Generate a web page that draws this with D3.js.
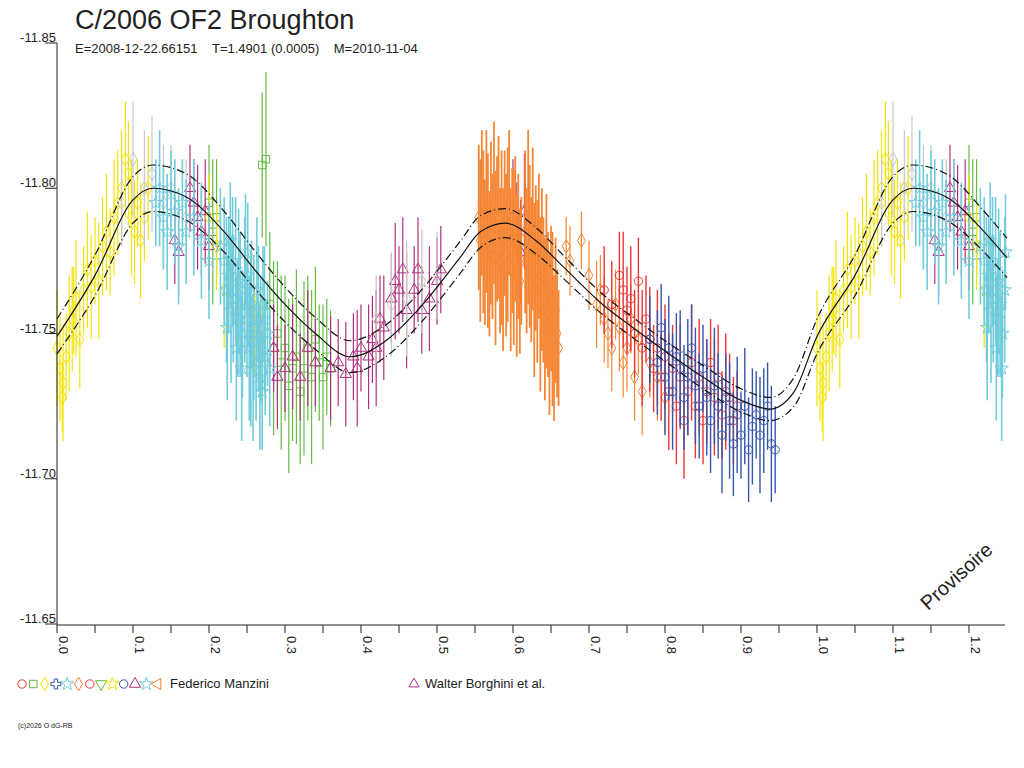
<!DOCTYPE html>
<html>
<head>
<meta charset="utf-8">
<script src="https://cdn.jsdelivr.net/npm/d3@7.9.0/dist/d3.min.js"></script>
<style>
  body { margin: 0; background: #fff; }
  text { font-family: "Liberation Sans", Arial, sans-serif; fill: #222; }
</style>
</head>
<body>
<svg id="chart" width="1024" height="768"></svg>
<script>
// fitted light curve (phase, magnitude) and its uncertainty band
const curvePhase = [0, 0.05, 0.1, 0.126, 0.17, 0.22, 0.26, 0.3, 0.34, 0.386, 0.43, 0.478, 0.53, 0.557, 0.59, 0.63, 0.666, 0.718, 0.758, 0.8, 0.85, 0.9, 0.938, 0.97, 1.0, 1.05, 1.1, 1.126, 1.17, 1.22, 1.25];
const curveMag = [-11.749, -11.770, -11.796, -11.800, -11.797, -11.785, -11.772, -11.760, -11.750, -11.742, -11.747, -11.759, -11.776, -11.785, -11.788, -11.782, -11.773, -11.760, -11.752, -11.744, -11.735, -11.727, -11.724, -11.730, -11.749, -11.770, -11.796, -11.800, -11.797, -11.785, -11.776];
const curveSigma = [0.006, 0.007, 0.008, 0.008, 0.008, 0.007, 0.0065, 0.006, 0.0055, 0.0055, 0.0055, 0.0055, 0.0055, 0.0055, 0.005, 0.0045, 0.004, 0.0035, 0.0035, 0.0035, 0.004, 0.004, 0.004, 0.005, 0.006, 0.007, 0.008, 0.008, 0.008, 0.007, 0.0068];

const xTicks = [0.0, 0.1, 0.2, 0.3, 0.4, 0.5, 0.6, 0.7, 0.8, 0.9, 1.0, 1.1, 1.2];
const yTicks = [-11.85, -11.80, -11.75, -11.70, -11.65];

// observations [phase, mag, halfError]
const yellowObs = [[0.0,-11.745,0.02],[0.004,-11.738,0.018],[0.008,-11.733,0.02],[0.012,-11.742,0.015],[0.016,-11.75,0.02],[0.02,-11.755,0.018],[0.025,-11.762,0.02],[0.03,-11.748,0.017],[0.035,-11.765,0.015],[0.04,-11.772,0.02],[0.045,-11.766,0.018],[0.05,-11.775,0.015],[0.055,-11.768,0.02],[0.06,-11.78,0.017],[0.065,-11.785,0.02],[0.07,-11.778,0.015],[0.075,-11.79,0.02],[0.08,-11.795,0.018],[0.085,-11.8,0.02],[0.09,-11.81,0.02],[0.094,-11.805,0.018],[0.098,-11.79,0.02],[0.102,-11.785,0.018],[0.106,-11.795,0.015],[0.11,-11.782,0.02],[0.115,-11.79,0.015],[0.12,-11.8,0.018],[0.007,-11.728,0.012],[0.022,-11.758,0.015],[0.2,-11.79,0.015],[0.21,-11.78,0.015],[0.22,-11.765,0.02],[0.255,-11.758,0.02],[0.26,-11.75,0.015],[0.265,-11.762,0.018],[0.27,-11.745,0.015]];
const grayObs = [[0.085,-11.795,0.015],[0.1,-11.81,0.02],[0.115,-11.8,0.02],[0.125,-11.805,0.02],[0.14,-11.795,0.02],[0.15,-11.8,0.015],[0.17,-11.79,0.02],[0.42,-11.755,0.015],[0.44,-11.76,0.018],[0.46,-11.762,0.02],[0.48,-11.768,0.018],[0.5,-11.77,0.015]];
const cyanObs = [[0.13,-11.795,0.015],[0.135,-11.8,0.02],[0.14,-11.79,0.018],[0.145,-11.785,0.02],[0.15,-11.798,0.015],[0.155,-11.792,0.018],[0.16,-11.78,0.02],[0.165,-11.795,0.015],[0.17,-11.785,0.018],[0.18,-11.79,0.02],[0.19,-11.782,0.02],[0.2,-11.775,0.02],[0.215,-11.78,0.02],[0.22,-11.775,0.022],[0.223,-11.765,0.025],[0.226,-11.77,0.02],[0.229,-11.758,0.025],[0.232,-11.762,0.022],[0.235,-11.772,0.025],[0.238,-11.755,0.02],[0.241,-11.76,0.025],[0.244,-11.75,0.022],[0.247,-11.765,0.025],[0.25,-11.755,0.02],[0.253,-11.745,0.025],[0.256,-11.76,0.022],[0.259,-11.752,0.025],[0.262,-11.74,0.02],[0.265,-11.755,0.025],[0.268,-11.748,0.022],[0.271,-11.76,0.02],[0.274,-11.742,0.02],[0.277,-11.75,0.018],[0.28,-11.738,0.02],[0.228,-11.782,0.02],[0.236,-11.745,0.025],[0.248,-11.778,0.02],[0.258,-11.738,0.025],[0.27,-11.73,0.02],[0.224,-11.752,0.025],[0.231,-11.775,0.022],[0.239,-11.768,0.025],[0.243,-11.738,0.025],[0.251,-11.77,0.025],[0.255,-11.748,0.03],[0.263,-11.765,0.025],[0.267,-11.735,0.025],[0.273,-11.755,0.025]];
const magentaObs = [[0.155,-11.782,0.015],[0.16,-11.778,0.015],[0.175,-11.8,0.015],[0.18,-11.795,0.015],[0.185,-11.79,0.018],[0.19,-11.785,0.015],[0.195,-11.792,0.018],[0.2,-11.78,0.015],[0.285,-11.745,0.015],[0.29,-11.735,0.018],[0.3,-11.738,0.015],[0.31,-11.742,0.018],[0.32,-11.735,0.015],[0.33,-11.745,0.02],[0.34,-11.74,0.015],[0.36,-11.738,0.018],[0.37,-11.74,0.015],[0.38,-11.736,0.018],[0.39,-11.742,0.015],[0.395,-11.738,0.02],[0.4,-11.745,0.015],[0.41,-11.742,0.018],[0.415,-11.748,0.015],[0.42,-11.745,0.02],[0.425,-11.755,0.015],[0.43,-11.752,0.018],[0.44,-11.762,0.015],[0.445,-11.768,0.02],[0.45,-11.765,0.015],[0.455,-11.772,0.018],[0.46,-11.758,0.02],[0.47,-11.765,0.015],[0.475,-11.772,0.018],[0.48,-11.758,0.015],[0.49,-11.762,0.018],[0.5,-11.768,0.015],[0.505,-11.772,0.015],[0.6,-11.79,0.02],[0.605,-11.782,0.02],[0.61,-11.778,0.018],[0.615,-11.792,0.02]];
const greenObs = [[0.2,-11.795,0.02],[0.205,-11.785,0.025],[0.21,-11.79,0.02],[0.27,-11.808,0.025],[0.275,-11.81,0.03],[0.28,-11.76,0.025],[0.285,-11.745,0.03],[0.29,-11.75,0.025],[0.295,-11.74,0.03],[0.3,-11.745,0.025],[0.305,-11.732,0.03],[0.31,-11.738,0.025],[0.315,-11.742,0.03],[0.32,-11.73,0.025],[0.325,-11.738,0.03],[0.33,-11.745,0.025],[0.335,-11.735,0.03],[0.34,-11.748,0.025],[0.345,-11.74,0.02],[0.35,-11.735,0.025],[0.355,-11.742,0.02],[0.36,-11.738,0.02]];
const orangeObs = [[0.555,-11.79,0.025],[0.557,-11.782,0.028],[0.559,-11.795,0.025],[0.561,-11.785,0.028],[0.563,-11.778,0.025],[0.565,-11.792,0.028],[0.567,-11.782,0.03],[0.569,-11.774,0.025],[0.571,-11.788,0.028],[0.573,-11.78,0.025],[0.575,-11.795,0.028],[0.577,-11.776,0.03],[0.579,-11.786,0.025],[0.581,-11.79,0.028],[0.583,-11.775,0.025],[0.585,-11.783,0.03],[0.587,-11.772,0.028],[0.589,-11.788,0.025],[0.591,-11.777,0.028],[0.593,-11.784,0.03],[0.595,-11.795,0.025],[0.597,-11.772,0.028],[0.599,-11.782,0.025],[0.601,-11.776,0.03],[0.603,-11.786,0.025],[0.605,-11.77,0.028],[0.607,-11.78,0.025],[0.609,-11.768,0.025],[0.611,-11.775,0.022],[0.616,-11.785,0.028],[0.618,-11.775,0.025],[0.62,-11.79,0.03],[0.622,-11.78,0.028],[0.624,-11.772,0.025],[0.626,-11.786,0.028],[0.628,-11.765,0.03],[0.63,-11.776,0.025],[0.632,-11.768,0.028],[0.634,-11.78,0.025],[0.636,-11.76,0.03],[0.638,-11.772,0.028],[0.64,-11.765,0.025],[0.642,-11.755,0.028],[0.644,-11.768,0.03],[0.646,-11.76,0.025],[0.648,-11.75,0.028],[0.65,-11.762,0.025],[0.652,-11.755,0.03],[0.654,-11.745,0.025],[0.656,-11.758,0.025],[0.658,-11.75,0.022],[0.66,-11.745,0.02]];
const orangeDiamondObs = [[0.67,-11.78,0.01],[0.675,-11.775,0.012],[0.69,-11.782,0.01],[0.7,-11.77,0.012],[0.71,-11.76,0.015],[0.715,-11.765,0.012],[0.72,-11.755,0.015],[0.725,-11.75,0.012],[0.73,-11.745,0.015],[0.735,-11.76,0.012],[0.74,-11.752,0.015],[0.745,-11.74,0.012],[0.75,-11.745,0.015],[0.755,-11.755,0.012],[0.76,-11.735,0.015],[0.765,-11.748,0.012],[0.77,-11.73,0.015],[0.78,-11.74,0.012],[0.79,-11.735,0.015],[0.8,-11.728,0.012]];
const redObs = [[0.72,-11.765,0.015],[0.73,-11.76,0.015],[0.74,-11.77,0.015],[0.745,-11.765,0.02],[0.75,-11.758,0.015],[0.755,-11.762,0.018],[0.76,-11.75,0.015],[0.765,-11.768,0.015],[0.77,-11.745,0.02],[0.775,-11.755,0.015],[0.78,-11.748,0.018],[0.785,-11.738,0.015],[0.79,-11.745,0.02],[0.795,-11.735,0.015],[0.8,-11.742,0.018],[0.805,-11.73,0.02],[0.81,-11.738,0.015],[0.815,-11.725,0.02],[0.82,-11.735,0.018],[0.825,-11.72,0.02],[0.83,-11.73,0.015],[0.835,-11.74,0.02],[0.84,-11.725,0.018],[0.845,-11.735,0.02],[0.85,-11.72,0.015],[0.855,-11.73,0.018],[0.86,-11.74,0.015],[0.865,-11.728,0.02],[0.87,-11.735,0.018],[0.875,-11.722,0.015],[0.88,-11.73,0.02],[0.885,-11.728,0.015],[0.89,-11.72,0.015],[0.895,-11.725,0.012]];
const blueObs = [[0.78,-11.748,0.015],[0.79,-11.74,0.018],[0.795,-11.752,0.015],[0.8,-11.735,0.02],[0.805,-11.745,0.018],[0.81,-11.73,0.02],[0.815,-11.742,0.015],[0.82,-11.738,0.02],[0.825,-11.728,0.018],[0.83,-11.735,0.02],[0.835,-11.745,0.015],[0.84,-11.732,0.02],[0.845,-11.725,0.018],[0.85,-11.738,0.015],[0.855,-11.728,0.02],[0.86,-11.72,0.018],[0.865,-11.732,0.02],[0.87,-11.725,0.018],[0.875,-11.715,0.02],[0.88,-11.728,0.015],[0.885,-11.72,0.02],[0.89,-11.712,0.018],[0.895,-11.722,0.02],[0.9,-11.715,0.015],[0.905,-11.725,0.02],[0.91,-11.71,0.018],[0.915,-11.718,0.02],[0.92,-11.722,0.015],[0.925,-11.715,0.02],[0.93,-11.72,0.018],[0.935,-11.725,0.015],[0.94,-11.712,0.02],[0.945,-11.71,0.015]];

const groups = [
  { data: greenObs, color: '#66bb44', symbol: d3.symbolSquare, wrap: true, w: 1.2 },
  { data: magentaObs, color: '#b0307f', symbol: d3.symbolTriangle, wrap: true, w: 1.2 },
  { data: yellowObs, color: '#f5e400', symbol: d3.symbolDiamond, wrap: true, w: 1.2 },
  { data: grayObs, color: '#c8c8c8', symbol: d3.symbolDiamond, wrap: true, w: 1.2 },
  { data: cyanObs, color: '#70ccdc', symbol: d3.symbolStar, wrap: true, w: 1.6 },
  { data: orangeObs, color: '#f58634', symbol: d3.symbolDiamond, wrap: false, w: 1.8 },
  { data: orangeDiamondObs, color: '#f58634', symbol: d3.symbolDiamond, wrap: false, w: 1.2 },
  { data: redObs, color: '#ee3333', symbol: d3.symbolCircle, wrap: false, w: 1.4 },
  { data: blueObs, color: '#3355aa', symbol: d3.symbolCircle, wrap: false, w: 1.4 }
];

const svg = d3.select('#chart');
const x = d3.scaleLinear().domain([0, 1.2474]).range([57, 1005]);
const y = d3.scaleLinear().domain([-11.85, -11.65]).range([43, 624]);

// data points with error bars
const marks = svg.append('g');
groups.forEach(g => {
  let pts = g.data.slice();
  if (g.wrap) pts = pts.concat(g.data.filter(d => d[0] < 0.25).map(d => [d[0] + 1, d[1], d[2]]));
  const grp = marks.append('g');
  grp.selectAll('line').data(pts).join('line')
    .attr('x1', d => x(d[0])).attr('x2', d => x(d[0]))
    .attr('y1', d => y(d[1] - d[2])).attr('y2', d => y(d[1] + d[2]))
    .attr('stroke', g.color).attr('stroke-width', g.w);
  grp.selectAll('path').data(pts).join('path')
    .attr('d', d3.symbol().type(g.symbol).size(55))
    .attr('transform', d => `translate(${x(d[0])},${y(d[1])})`)
    .attr('fill', 'none').attr('stroke', g.color).attr('stroke-width', 1);
});

// fitted curve and band
const curve = curvePhase.map((p, i) => [p, curveMag[i], curveSigma[i]]);
const line = d3.line().x(d => x(d[0])).y(d => y(d[1])).curve(d3.curveMonotoneX);
svg.append('path').attr('d', line(curve)).attr('fill', 'none').attr('stroke', '#111').attr('stroke-width', 1.2);
[-1, 1].forEach(s => {
  svg.append('path').attr('d', line(curve.map(d => [d[0], d[1] + s * d[2]])))
    .attr('fill', 'none').attr('stroke', '#111').attr('stroke-width', 1.2)
    .attr('stroke-dasharray', '8,3,1,3');
});

// axes
svg.append('line').attr('x1', 57).attr('x2', 57).attr('y1', 43).attr('y2', 625).attr('stroke', '#222');
svg.append('line').attr('x1', 57).attr('x2', 1005).attr('y1', 625).attr('y2', 625).attr('stroke', '#222');
const minor = d3.range(0, 25).map(i => i * 0.05);
svg.selectAll('.xt').data(minor).join('line')
  .attr('x1', d => x(d)).attr('x2', d => x(d)).attr('y1', 625).attr('y2', 633).attr('stroke', '#222');
svg.selectAll('.xl').data(xTicks).join('text')
  .attr('transform', d => `translate(${x(d) + 2},636) rotate(90)`)
  .attr('font-size', 13).text(d => d.toFixed(1));
yTicks.forEach(v => {
  svg.append('line').attr('x1', 45).attr('x2', 57).attr('y1', y(v)).attr('y2', y(v)).attr('stroke', '#222');
  svg.append('text').attr('x', 56).attr('y', y(v) - 1).attr('text-anchor', 'end')
    .attr('font-size', 13).text(v.toFixed(2));
});

// titles
svg.append('text').attr('x', 75).attr('y', 29).attr('font-size', 27).text('C/2006 OF2 Broughton');
svg.append('text').attr('x', 75).attr('y', 53).attr('font-size', 13)
  .text('E=2008-12-22.66151\u00a0\u00a0\u00a0\u00a0T=1.4901 (0.0005)\u00a0\u00a0\u00a0\u00a0M=2010-11-04');
svg.append('text').attr('transform', 'translate(928,611) rotate(-42)').attr('font-size', 20).text('Provisoire');

// legend
const legendSyms = [
  [d3.symbolCircle, '#ee3333'], [d3.symbolSquare, '#66bb44'], [d3.symbolDiamond, '#f5e400'],
  [d3.symbolCross, '#3355aa'], [d3.symbolStar, '#70ccdc'], [d3.symbolDiamond, '#f58634'],
  [d3.symbolCircle, '#ee3333'], [d3.symbolTriangle, '#66bb44'], [d3.symbolStar, '#f5e400'],
  [d3.symbolCircle, '#3355aa'], [d3.symbolTriangle, '#b0307f'], [d3.symbolStar, '#70ccdc'],
  [d3.symbolTriangle, '#f58634']
];
legendSyms.forEach((s, i) => {
  svg.append('path').attr('d', d3.symbol().type(s[0]).size(55))
    .attr('transform', `translate(${22 + i * 11.3},684)` + (i === 7 ? ' rotate(180)' : i === 12 ? ' rotate(-90)' : ''))
    .attr('fill', 'none').attr('stroke', s[1]);
});
svg.append('text').attr('x', 170).attr('y', 688).attr('font-size', 13).text('Federico Manzini');
svg.append('path').attr('d', d3.symbol().type(d3.symbolTriangle).size(45))
  .attr('transform', 'translate(414,684)').attr('fill', 'none').attr('stroke', '#b0307f');
svg.append('text').attr('x', 425).attr('y', 688).attr('font-size', 13).text('Walter Borghini et al.');
svg.append('text').attr('x', 18).attr('y', 728).attr('font-size', 7).text('(c)2026 O dG-RB');
</script>
</body>
</html>
